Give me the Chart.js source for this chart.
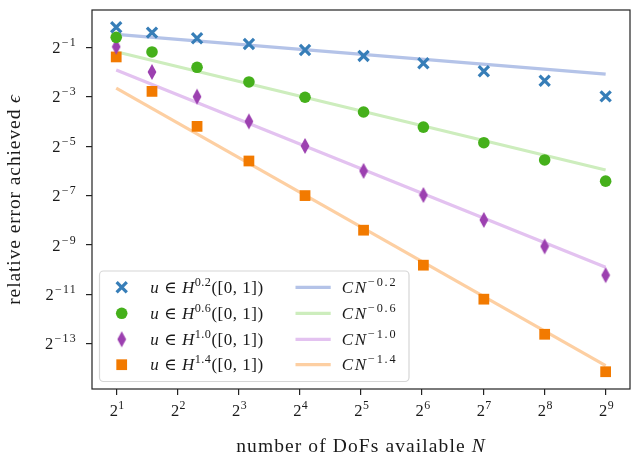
<!DOCTYPE html>
<html>
<head>
<meta charset="utf-8">
<script src="https://cdn.jsdelivr.net/npm/chart.js@4.4.1/dist/chart.umd.min.js"></script>
<style>
html, body { margin: 0; padding: 0; background: #fff; overflow: hidden; }
</style>
</head>
<body>
<canvas id="chart" width="633" height="458"></canvas>
<script>
// measured errors, N = 2^k + 1
const dofs = [2, 3, 5, 9, 17, 33, 65, 129, 257, 513];
const errH02 = [0.877, 0.753, 0.642, 0.547, 0.463, 0.392, 0.319, 0.255, 0.195, 0.126];
const errH06 = [0.660, 0.438, 0.285, 0.189, 0.123, 0.0814, 0.0533, 0.0344, 0.0212, 0.0117];
const errH10 = [0.507, 0.250, 0.125, 0.0625, 0.0314, 0.0156, 0.00793, 0.00395, 0.00188, 0.000839];
const errH14 = [0.381, 0.145, 0.0544, 0.0206, 0.00781, 0.00296, 0.00111, 0.000428, 0.000160, 0.0000560];

// reference rates C N^-s, read at both ends
const fitN = [2, 513];
const fitC02 = [0.717, 0.235];
const fitC06 = [0.441, 0.0160];
const fitC10 = [0.264, 0.00105];
const fitC14 = [0.159, 0.0000663];

const smoothness = ['0.2', '0.6', '1.0', '1.4'];
const xTickExp = [1, 2, 3, 4, 5, 6, 7, 8, 9];
const yTickExp = [-1, -3, -5, -7, -9, -11, -13];

const markerColors = ['#377eb8', '#45b01b', '#9c40b0', '#f27a00'];
const lineColors = ['#b4c3e8', '#cdedbd', '#e3c2f0', '#fdcfa2'];

const SERIF = '"Liberation Serif", "DejaVu Serif", serif';
const INK = '#1a1a1a';

function makeDiamond(color) {
	var c = document.createElement('canvas');
	c.width = 10;
	c.height = 18;
	var g = c.getContext('2d');
	g.fillStyle = color;
	g.beginPath();
	g.moveTo(5, 1);
	g.lineTo(9.4, 9);
	g.lineTo(5, 17);
	g.lineTo(0.6, 9);
	g.closePath();
	g.fill();
	return c;
}

const diamond = makeDiamond(markerColors[2]);

const markerStyles = [
	{pointStyle: 'crossRot', radius: 7.2, borderWidth: 3.2},
	{pointStyle: 'circle', radius: 5.8, borderWidth: 0},
	{pointStyle: diamond, radius: 8, borderWidth: 0},
	{pointStyle: 'rect', radius: 7.6, borderWidth: 0},
];

function pairs(xs, ys) {
	return xs.map((x, i) => ({x: x, y: ys[i]}));
}

// a run of text pieces {t, it, sup}, superscripts smaller and raised
function setFont(ctx, p, size, spacing) {
	var s = p.sup ? size * 0.72 : size;
	ctx.font = (p.it ? 'italic ' : '') + s + 'px ' + SERIF;
	ctx.letterSpacing = spacing + 'px';
}

function mathWidth(ctx, pieces, size, spacing) {
	var w = 0;
	pieces.forEach(p => {
		setFont(ctx, p, size, spacing);
		w += ctx.measureText(p.t).width;
	});
	return w;
}

function drawMath(ctx, pieces, x, y, size, align, spacing) {
	spacing = spacing || 0;
	var w = mathWidth(ctx, pieces, size, spacing);
	if (align === 'center') x -= w / 2;
	if (align === 'right') x -= w;
	ctx.textAlign = 'left';
	ctx.textBaseline = 'alphabetic';
	pieces.forEach(p => {
		setFont(ctx, p, size, spacing);
		ctx.fillText(p.t, x, p.sup ? y - size * 0.42 : y);
		x += ctx.measureText(p.t).width;
	});
	ctx.letterSpacing = '0px';
}

function powLabel(k) {
	return [{t: '2'}, {t: k < 0 ? '\u2212' + (-k) : String(k), sup: true}];
}

const frameAndText = {
	id: 'frameAndText',
	afterDraw(chart) {
		const {ctx, chartArea: {left, top, right, bottom}} = chart;
		const xs = chart.scales.x, ys = chart.scales.y;
		ctx.save();
		ctx.strokeStyle = '#222';
		ctx.lineWidth = 1.2;
		ctx.strokeRect(left, top, right - left, bottom - top);

		ctx.fillStyle = INK;
		xTickExp.forEach(k => {
			drawMath(ctx, powLabel(k), xs.getPixelForValue(Math.pow(2, k)) + 1, 416, 16.5, 'center', 0.4);
		});
		yTickExp.forEach(k => {
			drawMath(ctx, powLabel(k), 77, ys.getPixelForValue(Math.pow(2, k)) + 5.5, 16.5, 'right', 1.3);
		});

		// axis titles
		drawMath(ctx, [{t: 'number of DoFs available '}, {t: 'N', it: true}], (left + right) / 2, 452, 19.5, 'center', 1.1);
		ctx.save();
		ctx.translate(20, (top + bottom) / 2);
		ctx.rotate(-Math.PI / 2);
		drawMath(ctx, [{t: 'relative error achieved '}, {t: '\u03f5', it: true}], 0, 0, 19.5, 'center', 0.9);
		ctx.restore();

		// legend
		var bx = 99.5, by = 271, bw = 309.5, bh = 110.5;
		ctx.beginPath();
		ctx.roundRect(bx, by, bw, bh, 4);
		ctx.fillStyle = 'rgba(255,255,255,0.85)';
		ctx.fill();
		ctx.strokeStyle = '#d6d6d6';
		ctx.lineWidth = 1.2;
		ctx.stroke();

		var rows = [287.3, 313.3, 339.3, 364.7];
		smoothness.forEach((s, i) => {
			var ry = rows[i];
			var m = markerStyles[i];
			ctx.fillStyle = markerColors[i];
			ctx.strokeStyle = markerColors[i];
			ctx.lineWidth = m.borderWidth;
			Chart.helpers.drawPoint(ctx, {pointStyle: m.pointStyle, radius: m.radius, borderWidth: m.borderWidth, rotation: 0}, 121.7, ry);

			ctx.fillStyle = INK;
			drawMath(ctx, [{t: 'u', it: true}, {t: ' \u2208 '}, {t: 'H', it: true}, {t: s, sup: true}, {t: '([0, 1])'}], 150.3, ry + 5.5, 17, 'left', 0.5);

			ctx.strokeStyle = lineColors[i];
			ctx.lineWidth = 3.2;
			ctx.beginPath();
			ctx.moveTo(295.5, ry);
			ctx.lineTo(330.7, ry);
			ctx.stroke();

			ctx.fillStyle = INK;
			drawMath(ctx, [{t: 'CN', it: true}, {t: '\u2212' + s, sup: true}], 341.7, ry + 5.5, 17, 'left', 1.8);
		});
		ctx.restore();
	}
};

function createChart(ctx) {
	var errs = [errH02, errH06, errH10, errH14];
	var fits = [fitC02, fitC06, fitC10, fitC14];
	var datasets = [];

	errs.forEach((e, i) => {
		datasets.push({
			type: 'scatter',
			data: pairs(dofs, e),
			order: 0,
			pointStyle: markerStyles[i].pointStyle,
			pointRadius: markerStyles[i].radius,
			pointHoverRadius: markerStyles[i].radius,
			pointBorderWidth: markerStyles[i].borderWidth,
			backgroundColor: markerColors[i],
			borderColor: markerColors[i],
		});
	});
	fits.forEach((f, i) => {
		datasets.push({
			type: 'line',
			data: pairs(fitN, f),
			order: 1,
			borderColor: lineColors[i],
			borderWidth: 3.2,
			pointRadius: 0,
			fill: false,
		});
	});

	var tickGrid = {
		display: true,
		drawOnChartArea: false,
		drawTicks: true,
		tickLength: 6,
		color: '#222',
		lineWidth: 1.2,
	};

	return new Chart(ctx, {
		type: 'scatter',
		data: {datasets: datasets},
		options: {
			responsive: false,
			animation: false,
			events: [],
			layout: {autoPadding: false, padding: {left: 0, right: 3, top: 10, bottom: 0}},
			scales: {
				x: {
					type: 'logarithmic',
					position: 'bottom',
					min: 1.52,
					max: 676,
					afterBuildTicks: scale => {
						scale.ticks = xTickExp.map(k => ({value: Math.pow(2, k)}));
					},
					afterFit: scale => {
						scale.height = 69;
						scale.paddingLeft = 0;
						scale.paddingRight = 0;
					},
					ticks: {display: false},
					grid: tickGrid,
					border: {display: false},
				},
				y: {
					type: 'logarithmic',
					min: 0.0000345,
					max: 1.42,
					afterBuildTicks: scale => {
						scale.ticks = yTickExp.map(k => ({value: Math.pow(2, k)}));
					},
					afterFit: scale => {
						scale.width = 92;
						scale.paddingTop = 0;
						scale.paddingBottom = 0;
					},
					ticks: {display: false},
					grid: tickGrid,
					border: {display: false},
				},
			},
			plugins: {
				legend: {display: false},
				tooltip: {enabled: false},
			},
		},
		plugins: [frameAndText],
	});
}

createChart(document.getElementById('chart').getContext('2d'));
</script>
</body>
</html>
